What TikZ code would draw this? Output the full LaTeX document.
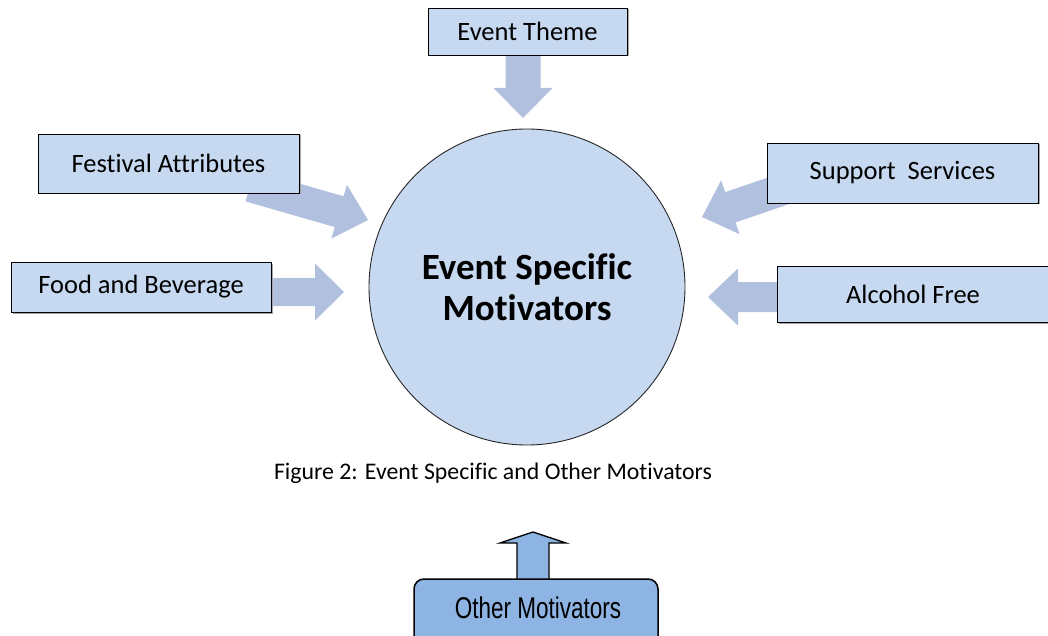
\documentclass[tikz,border=0pt]{standalone}
\usepackage{fontspec}
\setmainfont[Ligatures=NoCommon]{Carlito}
\newfontfamily\narrowfont[FakeStretch=0.75]{Liberation Sans}
\usetikzlibrary{calc,shadows}

\definecolor{boxfill}{HTML}{C6D9F1}
\definecolor{arrowfill}{HTML}{B0C0DE}
\definecolor{otherfill}{HTML}{8EB4E3}

% block arrow from #1 to the tip #2: shaft half width #3, head half width #4, head length #5
\newcommand\blockarrow[5]{%
  \path ($(#2)!#5!(#1)$) coordinate (ba-base);
  \fill[arrowfill] ($(#1)!#3!90:(#2)$) -- ($(ba-base)!#3!-90:(#1)$)
    -- ($(ba-base)!#4!-90:(#1)$) -- (#2) -- ($(ba-base)!#4!90:(#1)$)
    -- ($(ba-base)!#3!90:(#1)$) -- ($(#1)!#3!-90:(#2)$) -- cycle;
}

\tikzset{
  factor/.style={draw=black, line width=0.8pt, fill=boxfill, inner sep=0pt,
    font=\fontsize{26.5}{30}\selectfont,
    drop shadow={shadow xshift=1.5pt, shadow yshift=-1.5pt, fill=black!35, opacity=1}},
  core/.style={circle, draw=black!85, line width=0.9pt, fill=boxfill,
    minimum size=316pt, inner sep=0pt, align=center,
    font=\fontsize{37}{41}\selectfont\bfseries},
  caption/.style={font=\fontsize{23.8}{28}\selectfont},
  other/.style={draw=black, line width=1.5pt, fill=otherfill, rounded corners=10pt}
}

\begin{document}
\begin{tikzpicture}[x=1pt,y=-1pt]
  \useasboundingbox (0,0) rectangle (1048,636);
  \clip (0,0) rectangle (1048,636);

  % central circle
  \node[core] (core) at (527,287) {Event Specific\\Motivators};

  % where the block arrows start and end
  \coordinate (themeS) at (523,40);    \coordinate (themeT) at (523,118);
  \coordinate (festS)  at (250,186);   \coordinate (festT)  at (368,220);
  \coordinate (foodS)  at (240,292);   \coordinate (foodT)  at (344,292);
  \coordinate (suppS)  at (810,180);   \coordinate (suppT)  at (702,217);
  \coordinate (alcS)   at (820,297);   \coordinate (alcT)   at (708,297);

  \blockarrow{themeS}{themeT}{17.5pt}{29.5pt}{30pt}
  \blockarrow{festS}{festT}{16pt}{28pt}{30pt}
  \blockarrow{foodS}{foodT}{14pt}{28.5pt}{29pt}
  \blockarrow{suppS}{suppT}{16pt}{28.5pt}{30pt}
  \blockarrow{alcS}{alcT}{15pt}{28.5pt}{30pt}

  % factor boxes
  \node[factor, minimum width=199pt, minimum height=47pt] (theme) at (527.5,31.5) {Event Theme};
  \node[factor, minimum width=261pt, minimum height=59pt] (fest)  at (168.5,163.5) {Festival Attributes};
  \node[factor, minimum width=260pt, minimum height=50pt] (food)  at (141,287) {Food and Beverage};
  \node[factor, minimum width=271pt, minimum height=60pt] (supp)  at (902.5,173) {Support\ \ Services};
  \node[factor, minimum width=272pt, minimum height=56pt] (alc)   at (913,294) {Alcohol Free};

  % caption
  \node[caption] (cap) at (493,473) {Figure 2: Event Specific and Other Motivators};

  % other motivators with its upward arrow
  \draw[draw=black, line width=1.3pt, fill=otherfill, line join=miter]
    (517,581) -- (517,543) -- (500,543) -- (533,532) -- (566,543) -- (549,543) -- (549,581) -- cycle;
  \draw[other] (414,579) rectangle (658,660);
  \node[font=\narrowfont\fontsize{30}{34}\selectfont] (om) at (538,608) {Other Motivators};
\end{tikzpicture}
\end{document}
